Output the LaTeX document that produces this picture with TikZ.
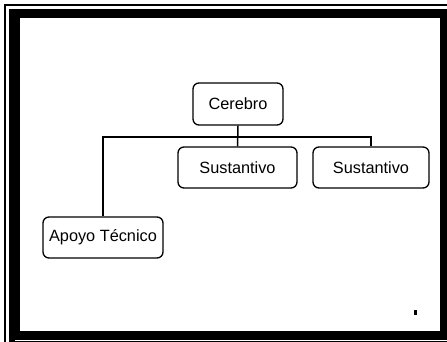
\documentclass[tikz,border=0pt]{standalone}
\usepackage{fontspec}
\setmainfont{Liberation Sans}
\begin{document}
\begin{tikzpicture}[x=1pt,y=-1pt,
  box/.style={draw=black, line width=1.3pt, rounded corners=6pt, fill=white,
    inner sep=0pt, font=\fontsize{16.3}{19}\selectfont, align=center},
  link/.style={draw=black, line width=1.5pt}]
\useasboundingbox (0,0) rectangle (447,342);
% frame
\fill[white] (0,0) rectangle (447,342);
\draw[line width=1.2pt] (5,342) -- (5,5) -- (447,5);
\fill[black] (9,9) rectangle (447,342);
\fill[white] (20,18) rectangle (440,331);
\draw[white, line width=0.6pt] (15,340) -- (447,340);
\fill[black] (414,310) rectangle (417,315);
% nodes
\node[box, minimum width=90pt, minimum height=42pt] (cer) at (238,104) {Cerebro};
\node[box, minimum width=119pt, minimum height=41pt] (s1) at (237.5,167.5) {Sustantivo};
\node[box, minimum width=116pt, minimum height=41pt] (s2) at (371,167.5) {Sustantivo};
\node[box, minimum width=120pt, minimum height=41pt] (apo) at (103,237.5) {Apoyo Técnico};
% connectors
\coordinate (bar) at (238,137);
\draw[link] (cer.south) -- (s1.north);
\draw[link] (apo.north) |- (bar) -| (s2.north);
\end{tikzpicture}
\end{document}
